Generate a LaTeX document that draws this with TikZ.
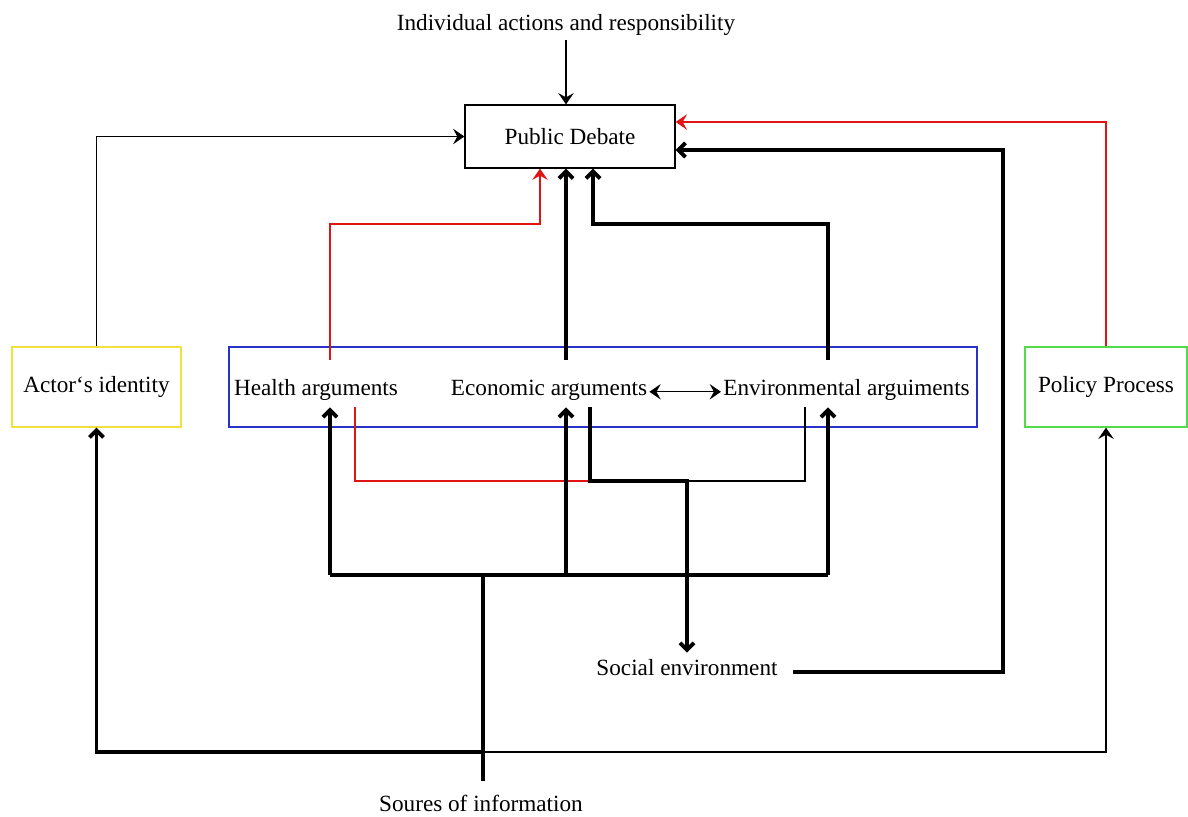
\documentclass[tikz,border=0pt]{standalone}
\usepackage{fontspec}
\setmainfont{Liberation Serif}
\usetikzlibrary{arrows.meta,calc}
\definecolor{bluec}{RGB}{40,50,200}
\definecolor{yellowc}{RGB}{240,225,60}
\definecolor{greenc}{RGB}{80,220,70}
\definecolor{redc}{RGB}{225,20,20}
\begin{document}
\begin{tikzpicture}[x=0.025cm,y=-0.025cm,
  font=\fontsize{16.5}{19}\selectfont,
  thk/.style={line width=2.8pt},
  thn/.style={line width=0.8pt},
  redl/.style={line width=0.8pt,draw=redc},
  tarr/.style={-{Straight Barb[length=5pt,width=10pt]}},
  narr/.style={-{Stealth[length=8pt,width=11pt,inset=3pt]}},
  dnarr/.style={{Stealth[length=8pt,width=11pt,inset=3pt]}-{Stealth[length=8pt,width=11pt,inset=3pt]}},
  box/.style={draw,line width=0.9pt,inner sep=0pt},
  arg/.style={anchor=base,inner ysep=0pt,inner xsep=1.5pt,text height=0.875cm,text depth=0.3cm}]
\useasboundingbox (0,0) rectangle (1188,816);
% x and y references
\coordinate (xH) at (330,0);
\coordinate (xHr) at (355,0);
\coordinate (xE) at (566,0);
\coordinate (xEb) at (590,0);
\coordinate (xV) at (828,0);
\coordinate (xVg) at (805,0);
\coordinate (yB) at (0,575);
\coordinate (yR) at (0,481);
\coordinate (cT1) at (540,224);
\coordinate (cT2) at (593,224);
\coordinate (cR1) at (0,122);
\coordinate (cR2) at (1003,150);
\coordinate (jB) at (483,575);
\coordinate (jS) at (483,752);
% nodes
\node[anchor=base,inner sep=0pt,text depth=0.25cm] (ind) at (566,30) {Individual actions and responsibility};
\node[box,draw=black,minimum width=5.25cm,minimum height=1.575cm] (pd) at (570,136.5) {Public Debate};
\node[box,draw=yellowc,minimum width=4.225cm,minimum height=2cm] (actor) at (96.5,387) {Actor‘s identity};
\node[box,draw=bluec,minimum width=18.7cm,minimum height=2cm] (blue) at (603,387) {};
\node[box,draw=greenc,minimum width=4.05cm,minimum height=2cm] (policy) at (1106,387) {Policy Process};
\node[arg] (health) at (316,395) {Health arguments};
\node[arg] (econ) at (549,395) {Economic arguments};
\node[arg] (env) at (846.5,395) {Environmental arguiments};
\node[anchor=base,inner ysep=0pt,inner xsep=0.375cm,text height=0.55cm,text depth=0.15cm] (soc) at (687,675) {Social environment};
\node[anchor=base,inner sep=0pt,text height=0.75cm] (src) at (481,811) {Soures of information};
% top
\draw[thn,narr] (ind.south -| xE) -- (pd.north -| xE);
\draw[thn,narr] (actor.north) |- (pd.west);
\draw[redl,narr] (policy.north) |- (pd.east |- cR1);
\draw[thk,tarr] (soc.mid east) -| (cR2) -- (pd.east |- cR2);
\draw[redl,narr] (health.north -| xH) |- (cT1) -- (pd.south -| cT1);
\draw[thk,tarr] (econ.north -| xE) -- (pd.south -| xE);
\draw[thk,tarr] (env.north -| xV) |- (cT2) -- (pd.south -| cT2);
\draw[thn,dnarr] (econ.mid east) -- (env.mid west);
% middle to social environment
\draw[redl] (health.south -| xHr) |- (xEb |- yR);
\draw[thn] (env.south -| xVg) |- (soc.north |- yR);
\draw[thk,tarr] (econ.south -| xEb) |- (soc.north |- yR) -- (soc.north);
% sources of information
\draw[thk] (src.north -| jB) -- (jB);
\draw[thk] (xH |- yB) -- (xV |- yB);
\draw[thk,tarr] (xH |- yB) -- (health.south -| xH);
\draw[thk,tarr] (xE |- yB) -- (econ.south -| xE);
\draw[thk,tarr] (xV |- yB) -- (env.south -| xV);
\draw[thk,tarr] (jS) -| (actor.south);
\draw[thn,narr] (jS) -| (policy.south);
\end{tikzpicture}
\end{document}
